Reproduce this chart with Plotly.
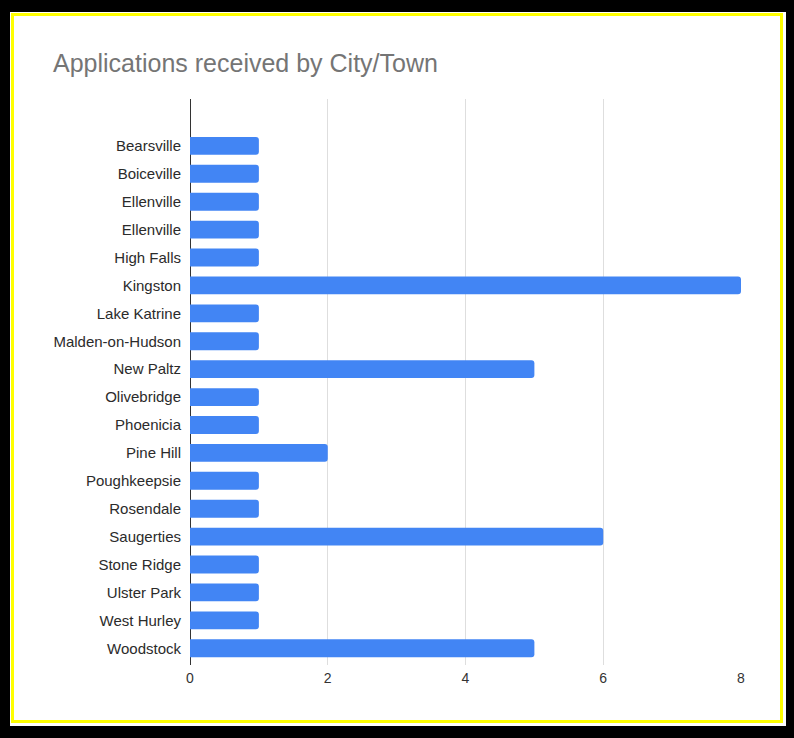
import plotly.graph_objects as go

cities = ["Bearsville", "Boiceville", "Ellenville", "Ellenville", "High Falls", "Kingston",
          "Lake Katrine", "Malden-on-Hudson", "New Paltz", "Olivebridge", "Phoenicia",
          "Pine Hill", "Poughkeepsie", "Rosendale", "Saugerties", "Stone Ridge",
          "Ulster Park", "West Hurley", "Woodstock"]
applications = [1, 1, 1, 1, 1, 8, 1, 1, 5, 1, 1, 2, 1, 1, 6, 1, 1, 1, 5]
x_ticks = [0, 2, 4, 6, 8]
title_text = "Applications received by City/Town"

W, H = 794, 738
L, R, T, B = 190, 741, 99, 665

def px(x):
    return (x - L) / (R - L)

def py(y):
    return (B - y) / (B - T)

positions = list(range(len(cities)))

fig = go.Figure(go.Bar(
    x=applications, y=positions, orientation="h",
    marker=dict(color="#4285F4", cornerradius=3, line=dict(width=0)),
    hoverinfo="x+text", text=cities, textposition="none",
))

fig.update_layout(
    width=W, height=H,
    margin=dict(l=L, r=W - R, t=T, b=H - B, pad=0),
    paper_bgcolor="black", plot_bgcolor="white",
    bargap=0.36,
    showlegend=False,
    font=dict(family="Liberation Sans, Arial, sans-serif", color="#333333"),
    title=dict(text=title_text, x=53 / W, xanchor="left", xref="container",
               y=1 - 63 / H, yanchor="middle", yref="container",
               font=dict(size=25, color="#757575")),
    xaxis=dict(range=[0, 8], tickvals=x_ticks, ticktext=[str(v) for v in x_ticks],
               showgrid=True, gridcolor="#dedede", gridwidth=1,
               zeroline=True, zerolinecolor="#333333", zerolinewidth=1,
               showline=False, tickfont=dict(size=14, color="#333333"),
               ticklabelstandoff=3, fixedrange=True),
    yaxis=dict(range=[18.6, -1.68], tickvals=positions, ticktext=cities,
               showgrid=False, zeroline=False, showline=False,
               tickfont=dict(size=15, color="#2b2b2b"),
               ticklabelstandoff=8, fixedrange=True),
    shapes=[
        dict(type="rect", xref="paper", yref="paper", layer="below",
             x0=px(10), x1=px(786), y0=py(12), y1=py(726),
             fillcolor="white", line=dict(width=0)),
        dict(type="rect", xref="paper", yref="paper", layer="below",
             x0=px(12.5), x1=px(781.5), y0=py(14.5), y1=py(721.5),
             fillcolor="white", line=dict(color="#FFFF00", width=3)),
    ],
)

fig.write_html("out.html",
               config={"displayModeBar": False},
               post_script="document.body.style.margin='0';document.body.style.background='black';")
